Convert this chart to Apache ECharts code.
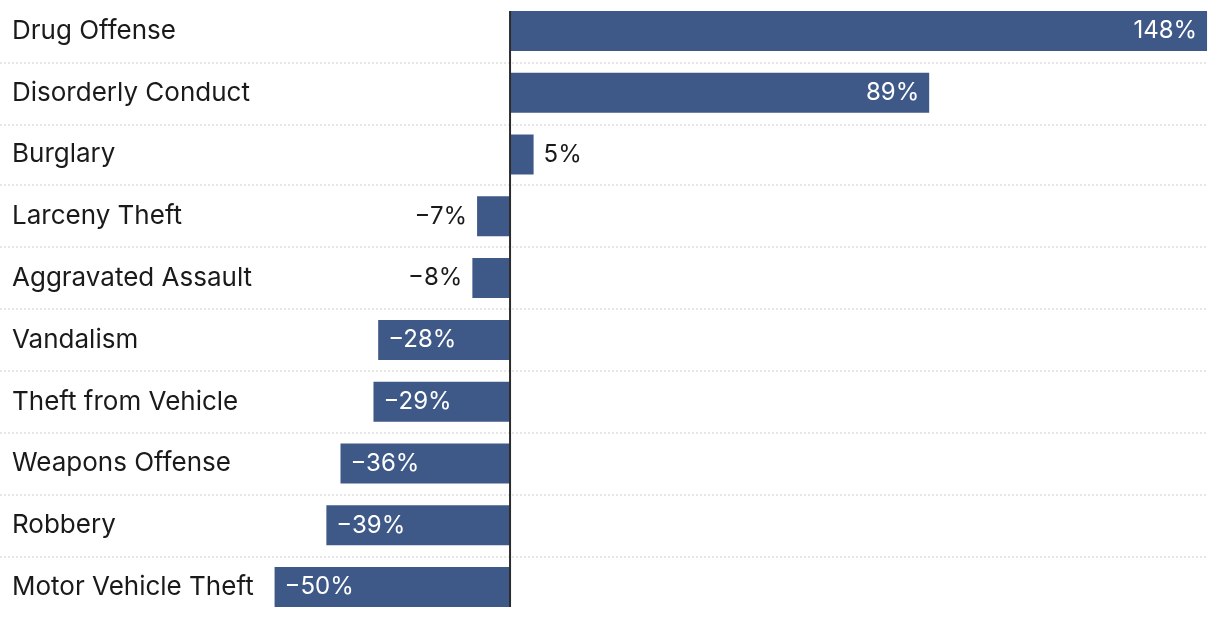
<!DOCTYPE html>
<html>
<head>
<meta charset="utf-8">
<script src="https://cdn.jsdelivr.net/npm/echarts@6/dist/echarts.min.js"></script>
<style>
html,body{margin:0;padding:0;background:#fff;overflow:hidden;}
#wrap{width:1220px;height:618px;overflow:hidden;}
#chart{width:610px;height:309px;transform:scale(2);transform-origin:0 0;}
</style>
</head>
<body>
<div id="wrap"><div id="chart"></div></div>
<script>
const categories = ["Drug Offense","Disorderly Conduct","Burglary","Larceny Theft","Aggravated Assault","Vandalism","Theft from Vehicle","Weapons Offense","Robbery","Motor Vehicle Theft"];
const values = [148, 89, 5, -7, -8, -28, -29, -36, -39, -50];

const BAR_COLOR = '#3e5988';
const TEXT_COLOR = '#1a1a1a';
const FONT = 'Inter, "Noto Sans", sans-serif';
const VALUE_FONT_SIZE = 12;
const CAT_FONT_SIZE = 13;
const BAR_W = 20;
const INSIDE_MIN = 15;

function fmt(v){ return (v < 0 ? '\u2212' + Math.abs(v) : String(v)) + '%'; }

const barData = values.map(v => {
  const inside = Math.abs(v) >= INSIDE_MIN;
  let position;
  if (v >= 0) position = inside ? 'insideRight' : 'right';
  else position = inside ? 'insideLeft' : 'left';
  return {
    value: v,
    label: {
      show: true,
      position: position,
      distance: 5,
      color: inside ? '#ffffff' : TEXT_COLOR,
      fontSize: VALUE_FONT_SIZE,
      fontFamily: FONT,
      formatter: () => fmt(v)
    }
  };
});

const chart = echarts.init(document.getElementById('chart'), null, {renderer:'canvas', devicePixelRatio: 2});
chart.setOption({
  animation: false,
  backgroundColor: '#ffffff',
  grid: { left: 0, right: 6, top: -0.5, bottom: -0.5, containLabel: false },
  xAxis: {
    type: 'value', min: -108.3, max: 148.2,
    axisLine: {show:false}, axisTick:{show:false}, axisLabel:{show:false}, splitLine:{show:false}
  },
  yAxis: {
    type: 'category', inverse: true, data: categories,
    axisLine: {show:false}, axisTick: {show:false},
    axisLabel: { inside: true, align: 'left', margin: 6, fontSize: CAT_FONT_SIZE, color: TEXT_COLOR, fontFamily: FONT },
    splitLine: { show: true, interval: function(index){ return index !== 0; }, lineStyle: { color: '#d0d0d0', width: 0.5, type: [1, 1] } }
  },
  series: [
    {
      type: 'bar', data: barData, barWidth: BAR_W,
      itemStyle: { color: BAR_COLOR }
    },
    {
      type: 'custom', z: 10, silent: true,
      data: [[0, 0]],
      renderItem: function(params, api){
        const top = api.coord([0, 0]);
        const bot = api.coord([0, categories.length - 1]);
        return {
          type: 'line',
          shape: { x1: top[0], y1: top[1] - BAR_W/2, x2: bot[0], y2: bot[1] + BAR_W/2 },
          style: { stroke: '#2b2b2b', lineWidth: 1 }
        };
      }
    }
  ]
});
</script>
</body>
</html>
